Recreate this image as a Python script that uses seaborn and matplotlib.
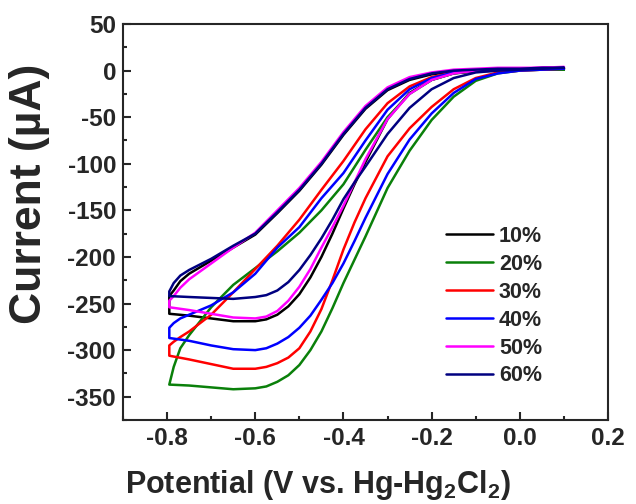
import numpy as np
import pandas as pd
import matplotlib
matplotlib.use('Agg')
import matplotlib.pyplot as plt
from matplotlib.ticker import MultipleLocator, FormatStrFormatter
import seaborn as sns

# potential grids (V vs. Hg-Hg2Cl2)
lower_x = [-0.795, -0.75, -0.7, -0.65, -0.6, -0.575, -0.55, -0.525, -0.5, -0.475,
           -0.45, -0.425, -0.4, -0.375, -0.35, -0.3, -0.25, -0.2, -0.15, -0.1,
           -0.05, 0.0, 0.05, 0.1]
upper_x = [-0.795, -0.785, -0.77, -0.75, -0.7, -0.65, -0.6, -0.55, -0.5, -0.45,
           -0.4, -0.35, -0.3, -0.25, -0.2, -0.15, -0.1, -0.05, 0.0, 0.05, 0.1]

labels = ['10%', '20%', '30%', '40%', '50%', '60%']
colors = ['#000000', '#0a800a', '#ff0000', '#0000ff', '#ff00ff', '#000080']

# current (uA), cathodic branch
low_10 = [-261, -263, -266, -269, -269, -267, -262, -253, -240, -222, -200, -175,
          -148, -122, -98, -52, -24, -10, -3, -1, 0, 1, 2, 2]
low_20 = [-337, -338, -340, -342, -341, -339, -334, -327, -316, -300, -280, -255,
          -228, -203, -178, -126, -86, -53, -28, -11, -3, 0, 1, 1]
low_30 = [-306, -310, -315, -320, -320, -318, -314, -308, -298, -280, -256, -225,
          -192, -163, -137, -92, -62, -39, -20, -8, -2, 0, 1, 2]
low_40 = [-287, -290, -295, -299, -300, -298, -293, -286, -276, -263, -246, -228,
          -207, -183, -158, -111, -74, -46, -24, -9, -3, 0, 1, 2]
low_50 = [-254, -257, -261, -265, -266, -264, -258, -247, -232, -213, -190, -168,
          -145, -120, -95, -52, -25, -10, -3, 0, 1, 2, 3, 3]
low_60 = [-242, -243, -244, -245, -243, -241, -236, -227, -214, -198, -180, -160,
          -138, -120, -103, -68, -40, -20, -8, -2, 0, 1, 2, 3]

# current (uA), return branch
up_10 = [-242, -236, -226, -218, -204, -190, -176, -153, -129, -101, -69, -41, -21, -10, -4, -1, 0, 1, 1, 2, 2]
up_20 = [-337, -318, -298, -284, -254, -230, -212, -194, -174, -150, -122, -85, -50, -25, -10, -3, 0, 1, 1, 1, 1]
up_30 = [-295, -291, -286, -280, -262, -238, -213, -188, -160, -128, -97, -63, -35, -17, -7, -2, 0, 1, 1, 2, 2]
up_40 = [-276, -271, -266, -262, -252, -238, -218, -190, -168, -137, -110, -75, -42, -20, -8, -2, 0, 1, 2, 2, 2]
up_50 = [-247, -242, -233, -224, -207, -190, -174, -150, -126, -98, -66, -38, -18, -7, -2, 1, 2, 3, 3, 3, 4]
up_60 = [-237, -228, -220, -214, -202, -188, -175, -152, -128, -100, -68, -40, -20, -9, -3, 0, 1, 2, 2, 3, 3]

lows = [low_10, low_20, low_30, low_40, low_50, low_60]
ups = [up_10, up_20, up_30, up_40, up_50, up_60]

# closed loops: cathodic branch from right to left, then back
frames = []
for lab, lo, up in zip(labels, lows, ups):
    xs = lower_x[::-1] + upper_x
    ys = lo[::-1] + up
    frames.append(pd.DataFrame({'E': xs, 'I': ys, 'sample': lab}))
df = pd.concat(frames, ignore_index=True)

sns.set_style('ticks')
plt.rcParams['font.family'] = ['Liberation Sans', 'DejaVu Sans']
plt.rcParams['font.weight'] = 'bold'
plt.rcParams['axes.unicode_minus'] = False
plt.rcParams['mathtext.fontset'] = 'custom'
plt.rcParams['mathtext.rm'] = 'Liberation Sans:bold'
plt.rcParams['mathtext.bf'] = 'Liberation Sans:bold'

fig = plt.figure(figsize=(6.36, 5.04), dpi=100)
ax = fig.add_axes([123 / 636, 84 / 504, 485 / 636, 396 / 504])

sns.lineplot(data=df, x='E', y='I', hue='sample', palette=colors,
             sort=False, estimator=None, linewidth=1.8, legend=False, ax=ax)

ax.set_xlim(-0.9, 0.2)
ax.set_ylim(-375, 50)
ax.xaxis.set_major_locator(MultipleLocator(0.2))
ax.xaxis.set_minor_locator(MultipleLocator(0.1))
ax.yaxis.set_major_locator(MultipleLocator(50))
ax.yaxis.set_minor_locator(MultipleLocator(25))
ax.xaxis.set_major_formatter(FormatStrFormatter('%.1f'))
ax.tick_params(which='both', direction='in', width=1.5, top=False, right=False)
ax.tick_params(which='major', length=6, labelsize=17.5, pad=5)
ax.tick_params(which='minor', length=3)
for lbl in ax.get_xticklabels() + ax.get_yticklabels():
    lbl.set_fontweight('bold')
for sp in ax.spines.values():
    sp.set_linewidth(1.5)
    sp.set_visible(True)

ax.set_xlabel(r'Potential (V vs. Hg-Hg$_\mathbf{2}$Cl$_\mathbf{2}$)', fontsize=22, fontweight='bold')
ax.set_ylabel('Current (µA)', fontsize=32, fontweight='bold')
ax.xaxis.set_label_coords(0.402, -0.12)
ax.yaxis.set_label_coords(-0.15, 0.57)

ax.legend(ax.lines, labels, loc='upper left', bbox_to_anchor=(0.665, 0.49),
          frameon=False, prop={'size': 15.5, 'weight': 'bold'},
          handlelength=2.2, handletextpad=0.28, labelspacing=0.32,
          borderpad=0, borderaxespad=0)

fig.savefig('out.png', dpi=100)
